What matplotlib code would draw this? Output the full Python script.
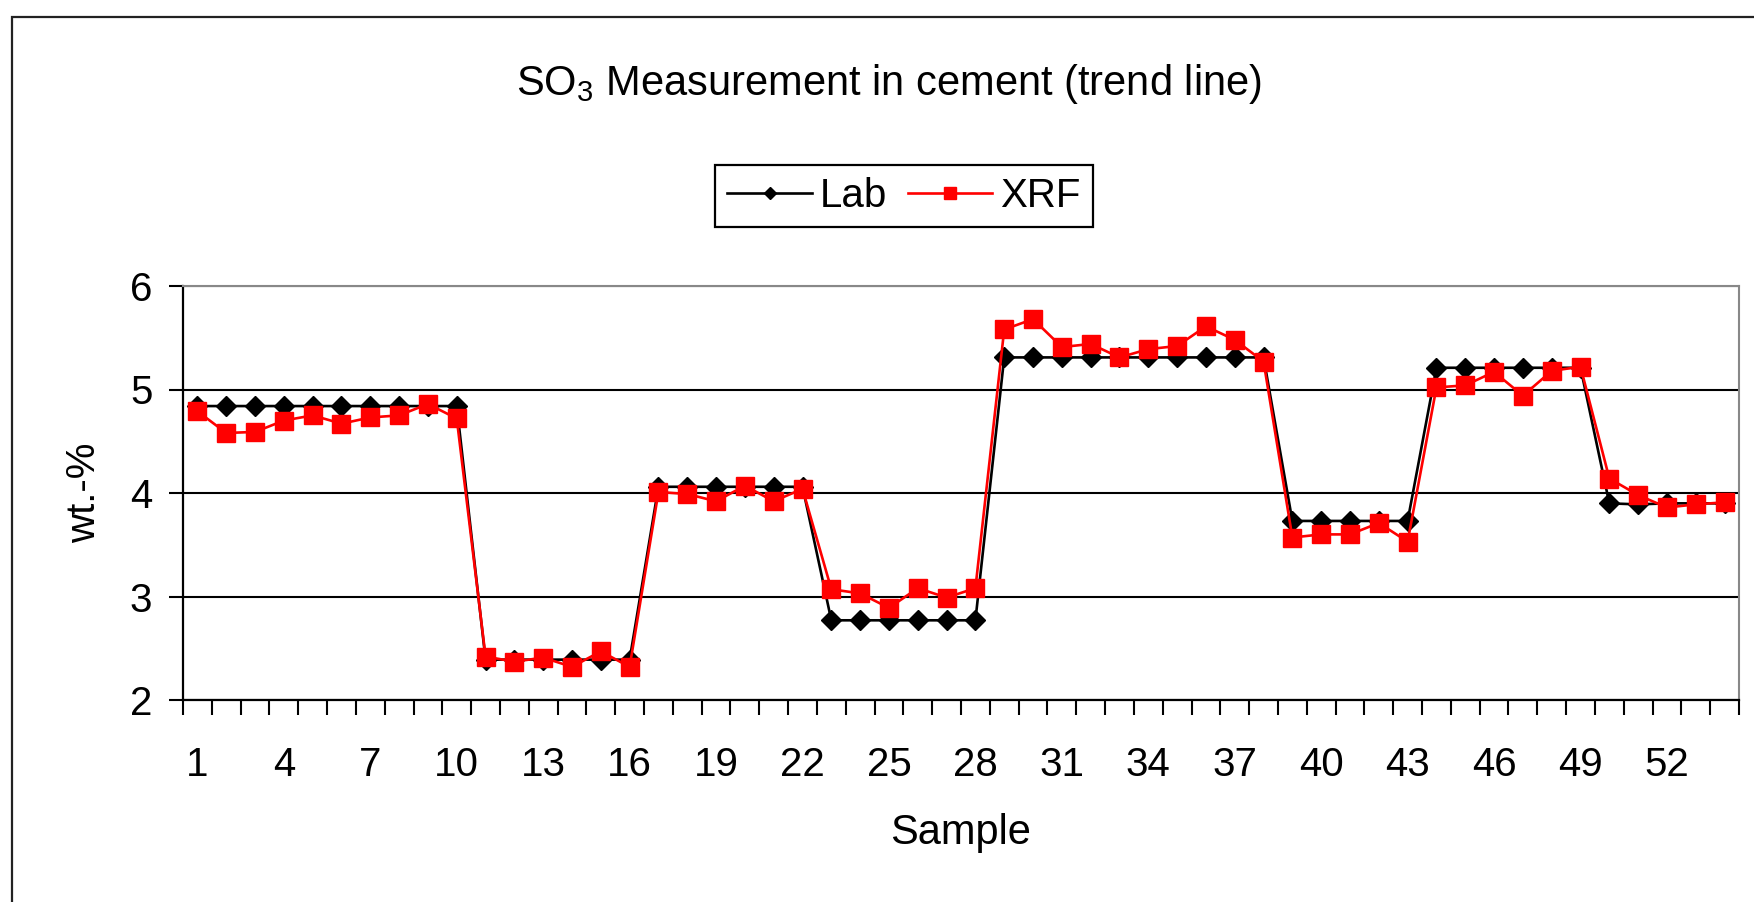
import matplotlib
matplotlib.use("Agg")
import matplotlib.pyplot as plt
from matplotlib.patches import Rectangle

plt.rcParams['font.family'] = ['Liberation Sans', 'DejaVu Sans']
plt.rcParams['mathtext.fontset'] = 'custom'
plt.rcParams['mathtext.rm'] = 'Liberation Sans'

# valeurs
samples = list(range(1, 55))
lab = [4.84, 4.84, 4.84, 4.84, 4.84, 4.84, 4.84, 4.84, 4.84, 4.84,
       2.39, 2.39, 2.39, 2.39, 2.39, 2.39,
       4.06, 4.06, 4.06, 4.06, 4.06, 4.06,
       2.77, 2.77, 2.77, 2.77, 2.77, 2.77,
       5.31, 5.31, 5.31, 5.31, 5.31, 5.31, 5.31, 5.31, 5.31, 5.31,
       3.73, 3.73, 3.73, 3.73, 3.73,
       5.21, 5.21, 5.21, 5.21, 5.21, 5.21,
       3.90, 3.89, 3.90, 3.90, 3.90]
xrf = [4.79, 4.58, 4.59, 4.70, 4.75, 4.67, 4.73, 4.75, 4.86, 4.72,
       2.42, 2.37, 2.41, 2.32, 2.47, 2.32,
       4.01, 3.99, 3.92, 4.07, 3.92, 4.04,
       3.07, 3.03, 2.89, 3.08, 2.99, 3.08,
       5.58, 5.68, 5.41, 5.44, 5.31, 5.39, 5.42, 5.61, 5.48, 5.27,
       3.57, 3.60, 3.60, 3.71, 3.53,
       5.02, 5.04, 5.17, 4.94, 5.18, 5.22,
       4.14, 3.98, 3.86, 3.89, 3.91]
xticks = list(range(1, 55, 3))
yticks = [2, 3, 4, 5, 6]

W, H = 1754, 902
fig = plt.figure(figsize=(W / 100, H / 100), dpi=100)

# cadre extérieur du graphique
fig.patches.append(Rectangle((12 / W, 1 - 1000 / H), 1800 / W, (1000 - 17) / H,
                             transform=fig.transFigure, fill=False,
                             edgecolor='#222222', linewidth=1.6))

ax = fig.add_axes([183 / W, 1 - 700 / H, (1739 - 183) / W, (700 - 286) / H])

ax.plot(samples, lab, color='black', linewidth=1.9, marker='D', markersize=10,
        markerfacecolor='black', markeredgecolor='black', label='Lab', zorder=3)
ax.plot(samples, xrf, color='red', linewidth=1.9, marker='s', markersize=13.5,
        markerfacecolor='red', markeredgecolor='red', label='XRF', zorder=4)

ax.set_xlim(0.5, 54.5)
ax.set_ylim(2, 6)
ax.set_yticks(yticks)
ax.set_xticks(xticks)
ax.set_xticks([k + 0.5 for k in range(0, 55)], minor=True)
ax.tick_params(axis='x', which='major', length=0, pad=33, labelsize=29)
ax.tick_params(axis='x', which='minor', length=11, width=1.5, direction='out')
ax.tick_params(axis='y', which='major', length=10, width=1.5, pad=12, labelsize=29)

ax.grid(axis='y', color='black', linewidth=1.5)
ax.set_axisbelow(True)
ax.spines['left'].set_linewidth(1.6)
ax.spines['bottom'].set_linewidth(1.6)
ax.spines['top'].set_color('#888888')
ax.spines['right'].set_color('#888888')
ax.spines['top'].set_linewidth(1.5)
ax.spines['right'].set_linewidth(1.5)

fig.text(889 / W, 1 - 95 / H, r'SO$_\mathregular{3}$ Measurement in cement (trend line)',
         ha='center', va='baseline', fontsize=30)
fig.text(84 / W, 1 - 493 / H, 'wt.-%', rotation=90, ha='center', va='center', fontsize=29)
fig.text(961 / W, 1 - 833 / H, 'Sample', ha='center', va='center', fontsize=30)

leg = fig.legend(loc='center', bbox_to_anchor=(904 / W, 1 - 196 / H), ncol=2,
                 fontsize=29, handlelength=2.1, handletextpad=0.2, columnspacing=0.5,
                 borderpad=0.3, markerscale=0.65, fancybox=False, framealpha=1)
leg.get_frame().set_edgecolor('black')
leg.get_frame().set_linewidth(1.6)

plt.savefig('out.png', dpi=100)
